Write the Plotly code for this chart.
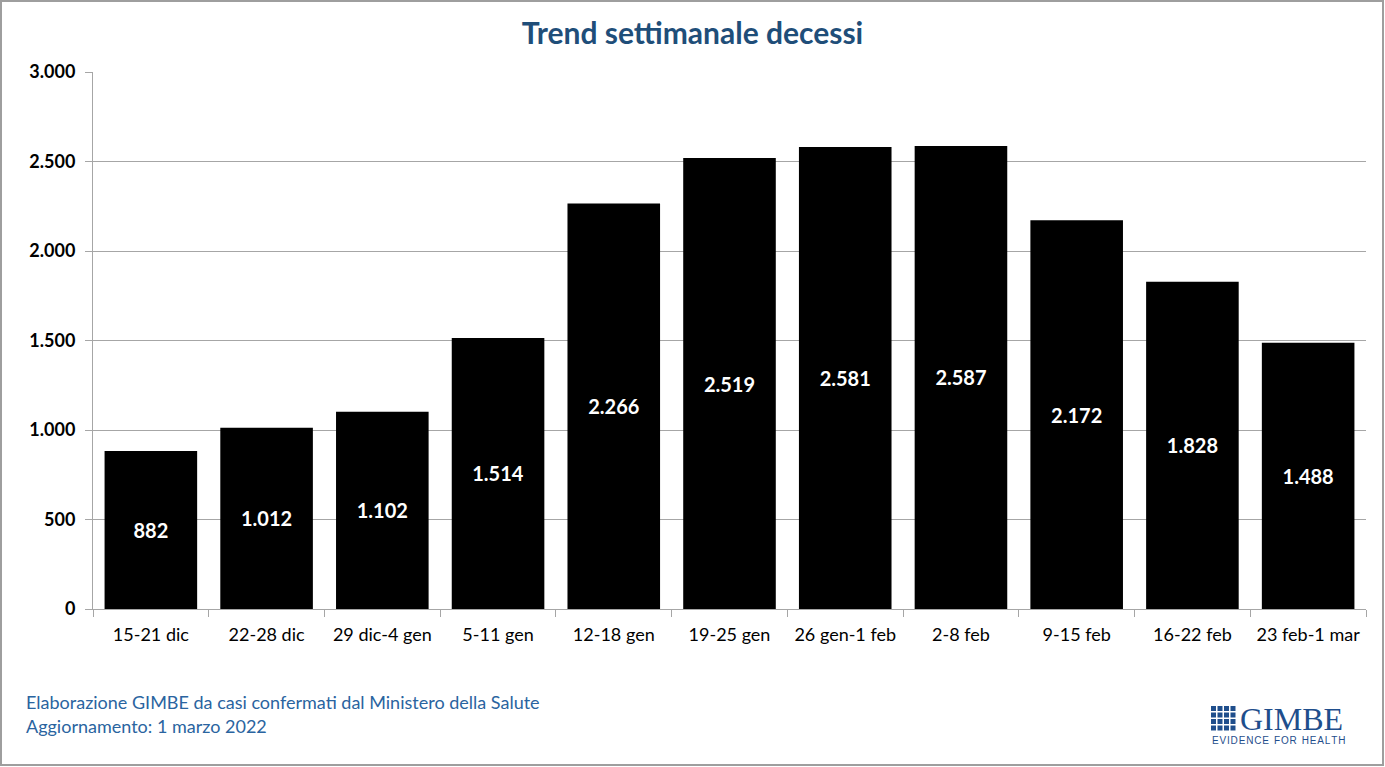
import plotly.graph_objects as go

categories = ["15-21 dic", "22-28 dic", "29 dic-4 gen", "5-11 gen", "12-18 gen", "19-25 gen",
              "26 gen-1 feb", "2-8 feb", "9-15 feb", "16-22 feb", "23 feb-1 mar"]
decessi = [882, 1012, 1102, 1514, 2266, 2519, 2581, 2587, 2172, 1828, 1488]
y_ticks = [0, 500, 1000, 1500, 2000, 2500, 3000]
y_tick_labels = ["0", "500", "1.000", "1.500", "2.000", "2.500", "3.000"]

def fmt(v):
    return f"{v:,}".replace(",", ".")

FONT = "Lato, 'Open Sans', sans-serif"
BLUE = "#1F4E79"
FOOT = "#2A64A0"

fig = go.Figure(go.Bar(
    x=categories, y=decessi,
    marker=dict(color="black", line=dict(width=0)),
    text=[fmt(v) for v in decessi],
    textposition="inside", insidetextanchor="middle",
    textfont=dict(color="white", size=20, family=FONT, weight="bold"),
    textangle=0,
    hoverinfo="x+y",
))

fig.update_layout(
    width=1385, height=767,
    paper_bgcolor="white", plot_bgcolor="white",
    margin=dict(l=93, r=19, t=72, b=158),
    bargap=0.2,
    showlegend=False,
    title=dict(text="<b>Trend settimanale decessi</b>", x=0.5, xanchor="center",
               y=1 - 33/767, yanchor="middle",
               font=dict(family=FONT, size=30, color=BLUE)),
    font=dict(family=FONT),
)
fig.update_yaxes(range=[0, 3000], tickvals=y_ticks, ticktext=y_tick_labels,
                 showgrid=True, gridcolor="#A6A6A6", gridwidth=1,
                 showline=True, linecolor="#A6A6A6", linewidth=1,
                 ticks="outside", ticklen=7, tickcolor="#A6A6A6",
                 ticklabelstandoff=6,
                 tickfont=dict(family=FONT, size=18, color="black", weight="bold"),
                 zeroline=False, fixedrange=True)
fig.update_xaxes(showline=True, linecolor="#A6A6A6", linewidth=1,
                 ticks="outside", ticklen=7, tickcolor="#A6A6A6", tickson="boundaries",
                 ticklabelstandoff=9,
                 tickfont=dict(family=FONT, size=18, color="black"),
                 showgrid=False, fixedrange=True)

def px(xp):
    return (xp - 93) / 1273
def py(yp):
    return (609 - yp) / 537

# footer
fig.add_annotation(xref="paper", yref="paper", x=px(24), y=py(702),
                   xanchor="left", yanchor="middle", showarrow=False, align="left",
                   text="Elaborazione GIMBE da casi confermati dal Ministero della Salute",
                   font=dict(family=FONT, size=18, color=FOOT))
fig.add_annotation(xref="paper", yref="paper", x=px(24), y=py(726),
                   xanchor="left", yanchor="middle", showarrow=False, align="left",
                   text="Aggiornamento: 1 marzo 2022",
                   font=dict(family=FONT, size=18, color=FOOT))

# logo (decorative)
LOGO = "#1F4E8C"
for i in range(4):
    for j in range(4):
        x0 = 1211 + i * 6.5
        y0 = 706 + j * 6.5
        fig.add_shape(type="rect", xref="paper", yref="paper",
                      x0=px(x0), x1=px(x0 + 5), y0=py(y0), y1=py(y0 + 5),
                      fillcolor=LOGO, line=dict(width=0))
fig.add_annotation(xref="paper", yref="paper", x=px(1238), y=py(719),
                   xanchor="left", yanchor="middle", showarrow=False,
                   text="GIMBE", font=dict(family="'Liberation Serif', serif", size=32, color=LOGO))
fig.add_annotation(xref="paper", yref="paper", x=px(1210), y=py(740),
                   xanchor="left", yanchor="middle", showarrow=False,
                   text="\u200a".join("EVIDENCE") + "\u2002" + "\u200a".join("FOR") + "\u2002" + "\u200a".join("HEALTH"),
                   font=dict(family="'Liberation Sans', sans-serif", size=10, color=LOGO))

# page border
fig.add_shape(type="rect", xref="paper", yref="paper",
              x0=px(1), x1=px(1383), y0=py(1), y1=py(765),
              line=dict(color="#9E9E9E", width=2), fillcolor="rgba(0,0,0,0)", layer="above")

fig.write_html("out.html", config={"displayModeBar": False},
               post_script="document.body.style.margin='0';document.body.style.overflow='hidden';")
